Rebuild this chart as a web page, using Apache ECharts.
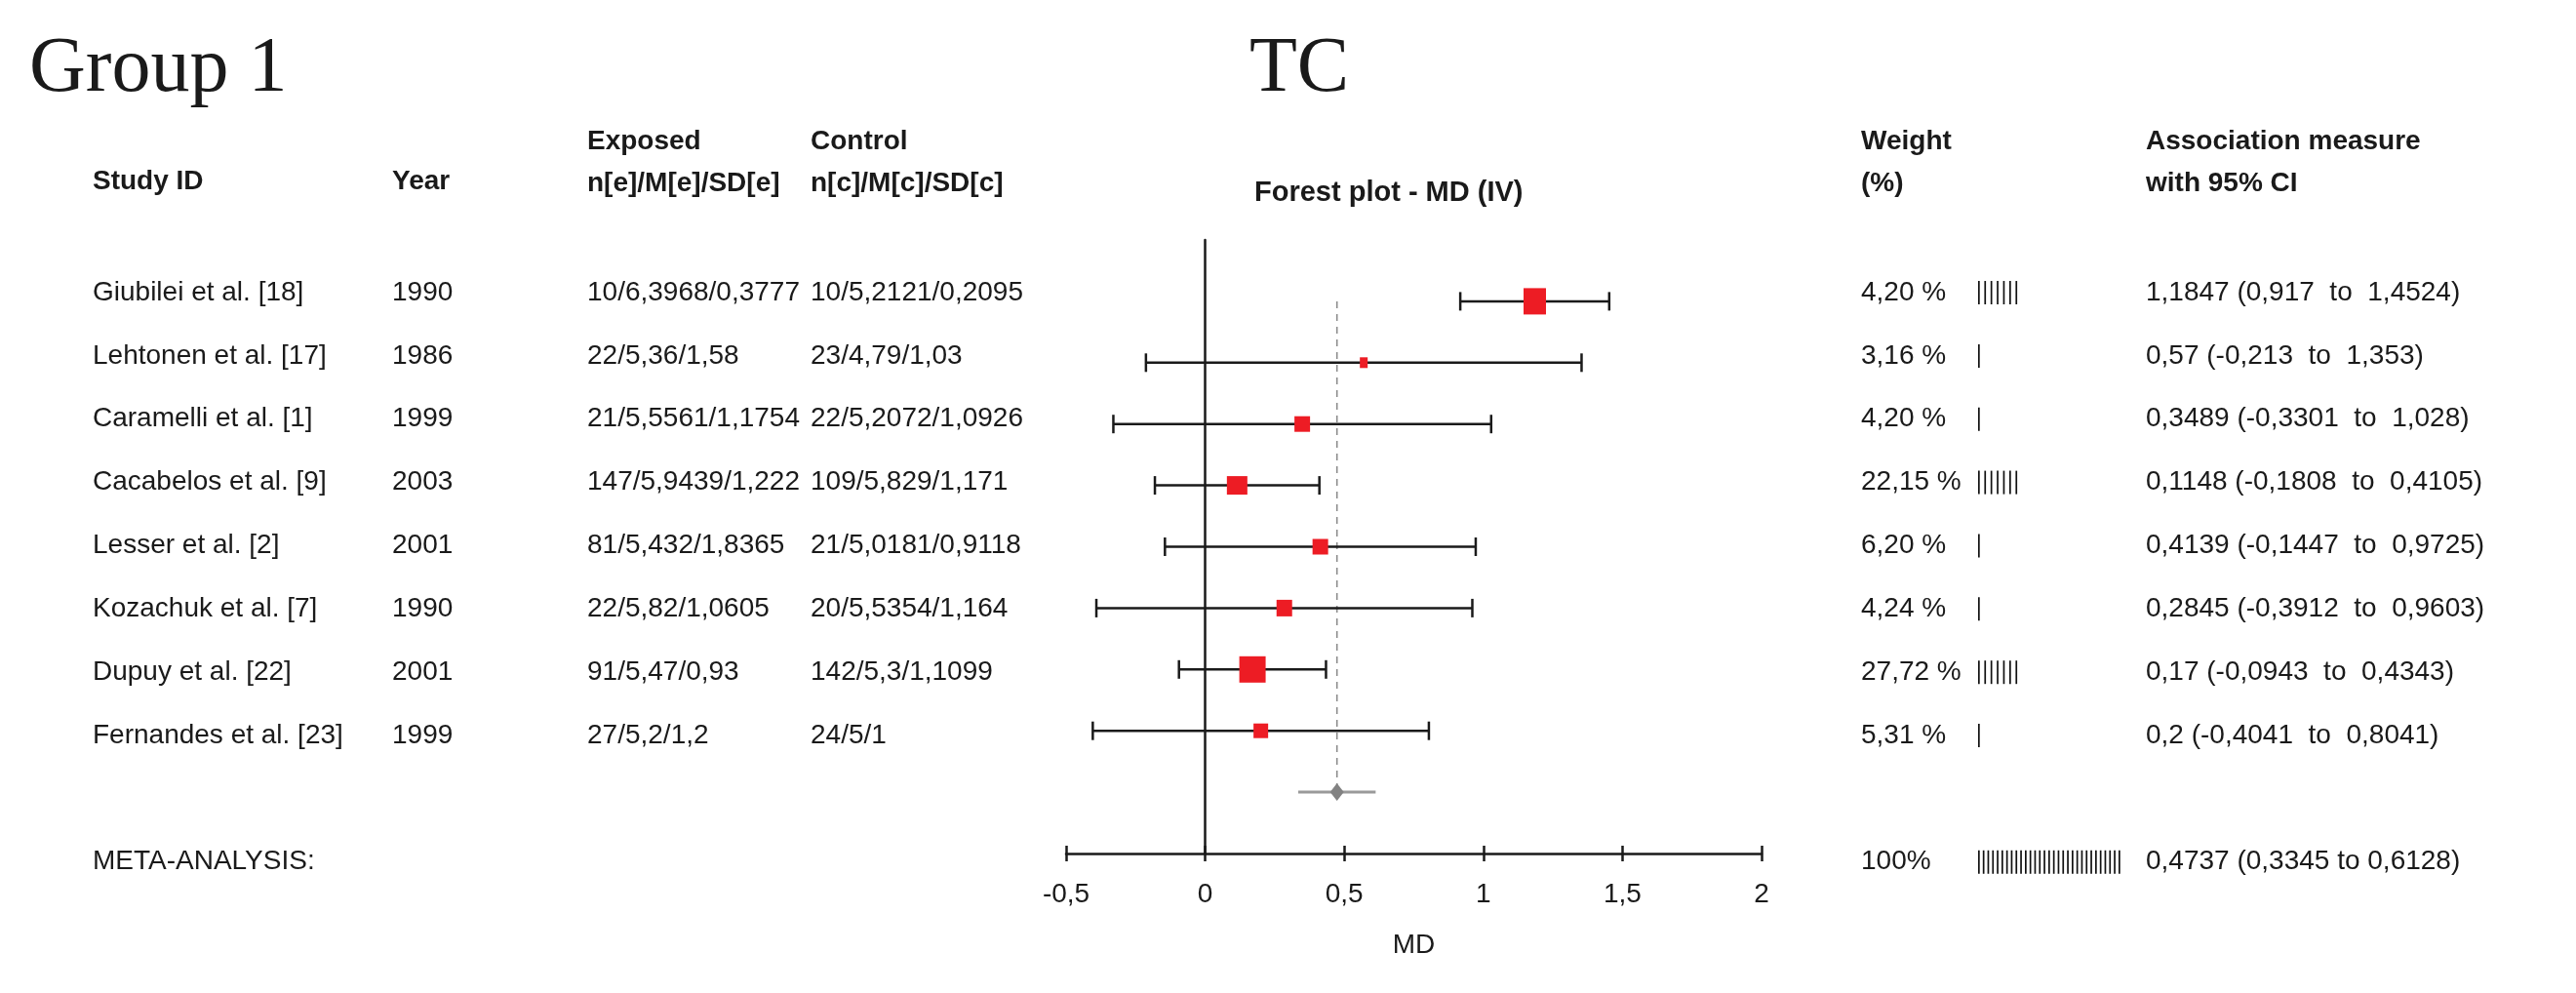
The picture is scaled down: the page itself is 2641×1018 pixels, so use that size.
<!DOCTYPE html>
<html>
<head>
<meta charset="utf-8">
<title>Group 1 - TC</title>
<script src="https://cdn.jsdelivr.net/npm/echarts@6.0.0/dist/echarts.min.js"></script>
<style>
    html, body { margin: 0; padding: 0; background: #ffffff; }
    #main { width: 2641px; height: 1018px; }
</style>
</head>
<body>
<div id="main"></div>
<script>
// Study table
var studies = ['Giubilei et al. [18]', 'Lehtonen et al. [17]', 'Caramelli et al. [1]', 'Cacabelos et al. [9]',
    'Lesser et al. [2]', 'Kozachuk et al. [7]', 'Dupuy et al. [22]', 'Fernandes et al. [23]'];
var years = ['1990', '1986', '1999', '2003', '2001', '1990', '2001', '1999'];
var exposed = ['10/6,3968/0,3777', '22/5,36/1,58', '21/5,5561/1,1754', '147/5,9439/1,222',
    '81/5,432/1,8365', '22/5,82/1,0605', '91/5,47/0,93', '27/5,2/1,2'];
var control = ['10/5,2121/0,2095', '23/4,79/1,03', '22/5,2072/1,0926', '109/5,829/1,171',
    '21/5,0181/0,9118', '20/5,5354/1,164', '142/5,3/1,1099', '24/5/1'];
var weights = [4.20, 3.16, 4.20, 22.15, 6.20, 4.24, 27.72, 5.31];
var weightBars = [7, 1, 1, 7, 1, 1, 7, 1]; // number of "|" glyphs in the weight column

// Mean difference and 95% CI
var md = [1.1847, 0.57, 0.3489, 0.1148, 0.4139, 0.2845, 0.17, 0.2];
var ciLow = [0.917, -0.213, -0.3301, -0.1808, -0.1447, -0.3912, -0.0943, -0.4041];
var ciHigh = [1.4524, 1.353, 1.028, 0.4105, 0.9725, 0.9603, 0.4343, 0.8041];

// Meta-analysis
var metaLabel = 'META-ANALYSIS:';
var metaMD = 0.4737;
var metaLow = 0.3345;
var metaHigh = 0.6128;
var metaWeight = 100;
var metaBars = 31;

// MD axis
var mdTicks = [-0.5, 0, 0.5, 1, 1.5, 2];

// ---- styling ----
var ink = '#1a1a1a';
var red = '#ed1c24';
var dataFont = '28px "Liberation Sans", Arial, sans-serif';
var headFont = 'bold 28px "Liberation Sans", Arial, sans-serif';
var titleFont = '80px "Liberation Serif", "Times New Roman", serif';
var boxSize = [[23, 27], [8, 11], [16, 16], [21, 19], [16, 16], [16, 17], [27, 27], [15, 15]];
var colX = {study: 95, year: 402, exposed: 602, control: 831, weight: 1908, bars: 2028, assoc: 2200};

function comma(v) {
    return String(v).replace('.', ',');
}

function textEl(x, y, s, font) {
    return {
        type: 'text', x: x, y: y,
        style: {
            text: s, fill: ink, font: font || dataFont,
            textAlign: 'left', align: 'left',
            textVerticalAlign: 'middle', verticalAlign: 'middle'
        }
    };
}

function barsEl(x, y, n, gap) {
    var kids = [];
    for (var k = 0; k < n; k++) {
        kids.push({type: 'rect', shape: {x: x + k * gap, y: y - 12, width: 1.7, height: 24}, style: {fill: '#111'}});
    }
    return kids;
}

function renderTable(params, api) {
    var row = api.value(0);
    var i = params.dataIndex;
    var y = api.coord([0, row])[1];
    var kids;
    if (i < studies.length) {
        kids = [
            textEl(colX.study, y, studies[i]),
            textEl(colX.year, y, years[i]),
            textEl(colX.exposed, y, exposed[i]),
            textEl(colX.control, y, control[i]),
            textEl(colX.weight, y, weights[i].toFixed(2).replace('.', ',') + ' %'),
            textEl(colX.assoc, y, comma(md[i]) + ' (' + comma(ciLow[i]) + '  to  ' + comma(ciHigh[i]) + ')')
        ].concat(barsEl(colX.bars, y, weightBars[i], 6.4));
    } else {
        kids = [
            textEl(colX.study, y, metaLabel),
            textEl(colX.weight, y, metaWeight + '%'),
            textEl(colX.assoc, y, comma(metaMD) + ' (' + comma(metaLow) + ' to ' + comma(metaHigh) + ')')
        ].concat(barsEl(colX.bars, y, metaBars, 4.8));
    }
    return {type: 'group', children: kids};
}

function renderCI(params, api) {
    var a = api.coord([api.value(1), api.value(0)]);
    var b = api.coord([api.value(2), api.value(0)]);
    var cap = 9.5;
    var st = {stroke: ink, lineWidth: 2.5};
    return {
        type: 'group',
        children: [
            {type: 'line', shape: {x1: a[0], y1: a[1], x2: b[0], y2: b[1]}, style: st},
            {type: 'line', shape: {x1: a[0], y1: a[1] - cap, x2: a[0], y2: a[1] + cap}, style: st},
            {type: 'line', shape: {x1: b[0], y1: b[1] - cap, x2: b[0], y2: b[1] + cap}, style: st}
        ]
    };
}

var tableRows = studies.map(function (s, i) { return [i]; });
tableRows.push([9]);

var ciData = studies.map(function (s, i) { return [i, ciLow[i], ciHigh[i]]; });
var boxData = md.map(function (v, i) { return [v, i]; });

var headers = [
    {t: 'Study ID', x: 95, y: 186},
    {t: 'Year', x: 402, y: 186},
    {t: 'Exposed', x: 602, y: 145},
    {t: 'n[e]/M[e]/SD[e]', x: 602, y: 188},
    {t: 'Control', x: 831, y: 145},
    {t: 'n[c]/M[c]/SD[c]', x: 831, y: 188},
    {t: 'Weight', x: 1908, y: 145},
    {t: '(%)', x: 1908, y: 188},
    {t: 'Association measure', x: 2200, y: 145},
    {t: 'with 95% CI', x: 2200, y: 188}
];
var graphics = headers.map(function (h) { return textEl(h.x, h.y, h.t, headFont); });
graphics.push(textEl(1286, 198, 'Forest plot - MD (IV)', 'bold 29px "Liberation Sans", Arial, sans-serif'));
graphics.push(textEl(30, 72, 'Group 1', titleFont));
graphics.push(textEl(1281, 72, 'TC', titleFont));

var chart = echarts.init(document.getElementById('main'));
var option = {
    backgroundColor: '#ffffff',
    animation: false,
    graphic: graphics,
    grid: [
        {left: 1093, right: 835, top: 246, height: 629, containLabel: false, outerBoundsMode: 'none'},
        {left: 0, right: 0, top: 267.6, height: 648.6, containLabel: false, outerBoundsMode: 'none'}
    ],
    xAxis: [
        {
            gridIndex: 0, type: 'value', min: -0.5, max: 2, interval: 0.5,
            axisLine: {show: true, onZero: false, lineStyle: {color: ink, width: 2.5}},
            axisTick: {show: true, inside: false, length: 8, lineStyle: {color: ink, width: 2.5}},
            axisLabel: {
                show: true, margin: 28, color: ink, fontSize: 28, fontFamily: 'Liberation Sans',
                customValues: mdTicks,
                formatter: function (v) { return comma(v); }
            },
            splitLine: {show: false},
            name: 'MD', nameLocation: 'middle', nameGap: 80,
            nameTextStyle: {color: ink, fontSize: 28, fontFamily: 'Liberation Sans'}
        },
        {
            gridIndex: 0, type: 'value', min: -0.5, max: 2, interval: 0.5, position: 'bottom',
            axisLine: {show: false, onZero: false},
            axisTick: {show: true, inside: true, length: 8, lineStyle: {color: ink, width: 2.5}},
            axisLabel: {show: false},
            splitLine: {show: false}
        },
        {gridIndex: 1, type: 'value', min: 0, max: 2641, show: false}
    ],
    yAxis: [
        {
            gridIndex: 0, type: 'value', min: -1, max: 9, inverse: true,
            axisLine: {show: true, onZero: true, lineStyle: {color: ink, width: 2.5}},
            axisTick: {show: false},
            axisLabel: {show: false},
            splitLine: {show: false}
        },
        {gridIndex: 1, type: 'value', min: -0.5, max: 9.5, inverse: true, show: false}
    ],
    series: [
        {
            type: 'line', xAxisIndex: 0, yAxisIndex: 0,
            data: [[metaMD, 0], [metaMD, 8]],
            showSymbol: false, silent: true, z: 1,
            lineStyle: {color: '#8c8c8c', width: 1.6, type: [7, 6]}
        },
        {
            type: 'custom', xAxisIndex: 0, yAxisIndex: 0,
            data: ciData, renderItem: renderCI, silent: true, z: 2
        },
        {
            type: 'scatter', xAxisIndex: 0, yAxisIndex: 0,
            data: boxData, symbol: 'rect', silent: true, z: 3,
            symbolSize: function (val, params) { return boxSize[params.dataIndex]; },
            itemStyle: {color: red, opacity: 1}
        },
        {
            type: 'line', xAxisIndex: 0, yAxisIndex: 0,
            data: [[metaLow, 8], [metaHigh, 8]],
            showSymbol: false, silent: true, z: 2,
            lineStyle: {color: '#9a9a9a', width: 3}
        },
        {
            type: 'scatter', xAxisIndex: 0, yAxisIndex: 0,
            data: [[metaMD, 8]], symbol: 'diamond', symbolSize: [14, 18], silent: true, z: 3,
            itemStyle: {color: '#828282', opacity: 1}
        },
        {
            type: 'custom', xAxisIndex: 2, yAxisIndex: 1,
            data: tableRows, renderItem: renderTable, silent: true,
            encode: {y: 0}
        }
    ]
};
chart.setOption(option);
</script>
</body>
</html>
